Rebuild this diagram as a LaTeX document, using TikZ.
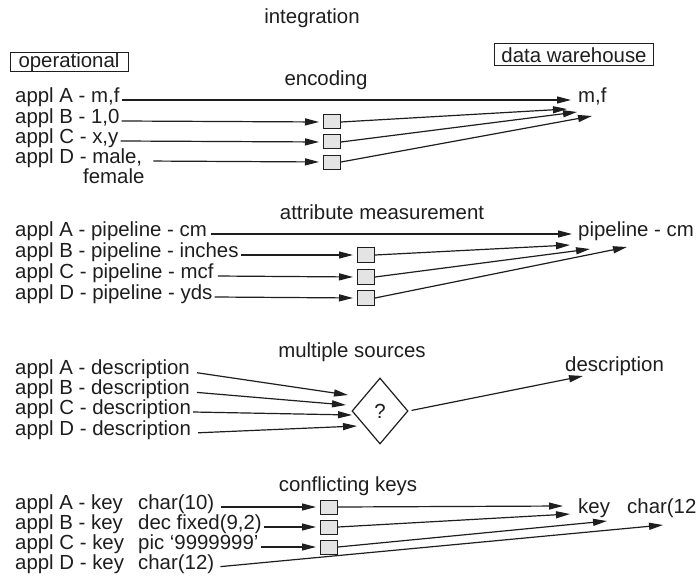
\documentclass[tikz,border=0pt]{standalone}
\usepackage{fontspec}
\setmainfont{Liberation Sans}
\usetikzlibrary{arrows.meta,shapes.geometric}
\definecolor{ink}{HTML}{1E1E1E}
\definecolor{boxfill}{HTML}{E4E4E4}
\begin{document}
\begin{tikzpicture}[x=1pt,y=-1pt,
  every node/.style={font=\fontsize{20.4}{21}\selectfont, text=ink},
  lbl/.style={anchor=west, inner sep=2pt, text height=0.72em, text depth=0.2em},
  heading/.style={inner sep=0pt},
  framed/.style={draw=ink, line width=1pt, inner sep=0pt},
  conv/.style={draw=ink, line width=1pt, fill=boxfill, minimum width=17pt, minimum height=14pt, inner sep=0pt},
  link/.style={draw=ink, line width=1.2pt},
  arr/.style={link, -{Triangle[length=14pt,width=7pt]}},
  tobox/.style={arr, shorten >=4pt},
  query/.style={draw=ink, line width=1.2pt, shape=diamond, minimum width=56pt, minimum height=66pt, inner sep=0pt}
]
\useasboundingbox (0,0) rectangle (700,580);
\fill[white] (0,0) rectangle (700,580);

% titles and the two sides
\node[heading] (title) at (312,18) {integration};
\node[framed, minimum width=118pt, minimum height=19pt] (ops) at (69,62) {operational};
\node[framed, minimum width=159pt, minimum height=22pt] (dw) at (574,55) {data warehouse};

% ---------- encoding ----------
\node[heading] (hEnc) at (326,80) {encoding};
\node[lbl] (e1) at (13,100) {appl A - m,f};
\node[lbl] (e2) at (13,121) {appl B - 1,0};
\node[lbl] (e3) at (13,141) {appl C - x,y};
\node[lbl] (e4) at (13,161) {appl D - male,};
\node[lbl] (e4b) at (81,181) {female};
\node[conv] (eb2) at (332,122) {};
\node[conv] (eb3) at (332,142) {};
\node[conv] (eb4) at (332,162) {};
\coordinate (et1) at (571,100);
\coordinate (et2) at (567,109);
\coordinate (et3) at (577,112);
\coordinate (et4) at (592,116);
\node[lbl] (emf) at (576,100) {m,f};
\draw[arr] (e1.east) -- (et1);
\draw[tobox] (e2.east) -- (eb2.west);
\draw[tobox] (e3.east) -- (eb3.west);
\draw[tobox, shorten <=9pt] (e4.east) -- (eb4.west);
\draw[arr] (eb2.east) -- (et2);
\draw[arr] (eb3.east) -- (et3);
\draw[arr] (eb4.east) -- (et4);

% ---------- attribute measurement ----------
\node[heading] (hAttr) at (382,212) {attribute measurement};
\node[lbl] (p1) at (13,234) {appl A - pipeline - cm};
\node[lbl] (p2) at (13,255) {appl B - pipeline - inches};
\node[lbl] (p3) at (13,276) {appl C - pipeline - mcf};
\node[lbl] (p4) at (13,297) {appl D - pipeline - yds};
\node[conv, minimum height=15pt] (pb2) at (366,255) {};
\node[conv, minimum height=15pt] (pb3) at (366,277) {};
\node[conv, minimum height=15pt] (pb4) at (366,298) {};
\coordinate (pt1) at (572,234);
\coordinate (pt2) at (570,245);
\coordinate (pt3) at (590,249);
\coordinate (pt4) at (627,247);
\node[lbl] (pcm) at (576,234) {pipeline - cm};
\draw[arr, shorten <=2pt] (p1.east) -- (pt1);
\draw[tobox] (p2.east) -- (pb2.west);
\draw[tobox, shorten <=2pt] (p3.east) -- (pb3.west);
\draw[tobox] (p4.east) -- (pb4.west);
\draw[arr] (pb2.east) -- (pt2);
\draw[arr] (pb3.east) -- (pt3);
\draw[arr] (pb4.east) -- (pt4);

% ---------- multiple sources ----------
\node[heading] (hMul) at (352,352) {multiple sources};
\node[lbl] (m1) at (13,372) {appl A - description};
\node[lbl] (m2) at (13,392) {appl B - description};
\node[lbl] (m3) at (13,412) {appl C - description};
\node[lbl] (m4) at (13,433) {appl D - description};
\node[query] (q) at (380,411) {?};
\coordinate (mt1) at (348,395);
\coordinate (mt2) at (346,405);
\coordinate (mt3) at (352,415);
\coordinate (mt4) at (357,426);
\coordinate (mto) at (583,376);
\node[lbl] (mdesc) at (563,369) {description};
\draw[arr, shorten <=5pt] (m1.east) -- (mt1);
\draw[arr, shorten <=5pt] (m2.east) -- (mt2);
\draw[arr] (m3.east) -- (mt3);
\draw[arr, shorten <=5pt] (m4.east) -- (mt4);
\draw[arr, shorten <=3pt] (q.east) -- (mto);

% ---------- conflicting keys ----------
\node[heading] (hKey) at (348,486) {conflicting keys};
\node[lbl] (k1) at (13,507) {appl A - key};
\node[lbl] (k2) at (13,527) {appl B - key};
\node[lbl] (k3) at (13,547) {appl C - key};
\node[lbl] (k4) at (13,567) {appl D - key};
\node[lbl] (k1t) at (136,507) {char(10)};
\node[lbl] (k2t) at (136,527) {dec fixed(9,2)};
\node[lbl] (k3t) at (136,547) {pic `9999999'};
\node[lbl] (k4t) at (136,567) {char(12)};
\node[conv] (kb1) at (329,507) {};
\node[conv] (kb2) at (329,527) {};
\node[conv] (kb3) at (329,547) {};
\coordinate (kt1) at (563,506);
\coordinate (kt2) at (570,514);
\coordinate (kt3) at (607,521);
\coordinate (kt4) at (663,525);
\node[lbl] (kkey) at (576,511) {key};
\node[lbl] (kchar) at (625,511) {char(12};
\draw[tobox, shorten <=5pt] (k1t.east) -- (kb1.west);
\draw[tobox] (k2t.east) -- (kb2.west);
\draw[tobox] (k3t.east) -- (kb3.west);
\draw[arr] (kb1.east) -- (kt1);
\draw[arr] (kb2.east) -- (kt2);
\draw[arr] (kb3.east) -- (kt3);
\draw[arr, shorten <=4pt] (k4t.east) -- (kt4);
\end{tikzpicture}
\end{document}
